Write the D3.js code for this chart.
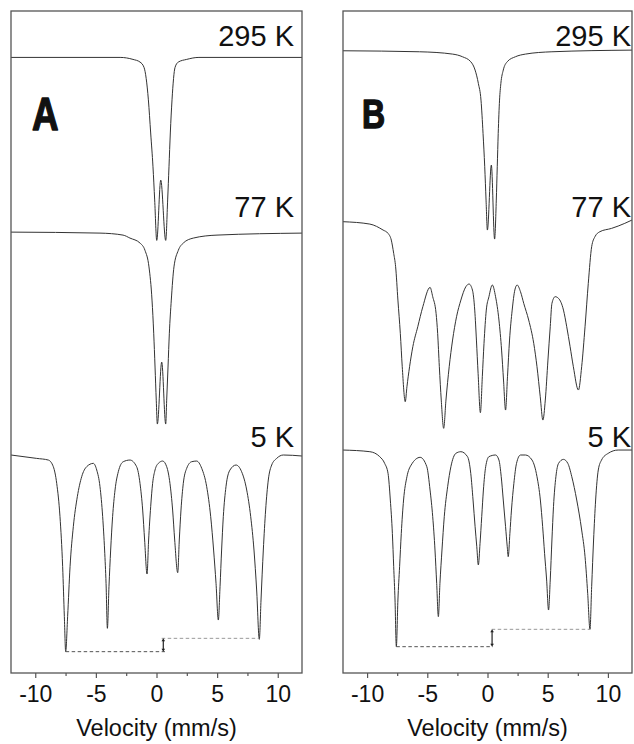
<!DOCTYPE html>
<html>
<head>
<meta charset="utf-8">
<script src="https://cdn.jsdelivr.net/npm/d3@7"></script>
<style>
  body { margin: 0; background: #fff; }
  text { font-family: "Liberation Sans", Arial, sans-serif; fill: #111; }
</style>
</head>
<body>
<svg id="chart" width="634" height="744"></svg>
<script>
// Mossbauer spectra: velocity (mm/s) vs. stacked transmission (arb. units, 0-100)
var velocityTicks = [-10, -5, 0, 5, 10];
var minorTicks = [-7.5, -2.5, 2.5, 7.5];
var temperatures = ['295 K', '77 K', '5 K'];
var panelNames = ['A', 'B'];

var specA295 = [
    [-12, 93.0], [-3.0, 93.0], [-1.94, 92.7], [-1.36, 92.3], [-1.03, 91.5], [-0.67, 86.6],
    [-0.48, 81.6], [-0.29, 76.5], [-0.15, 71.5], [0.02, 65.4], [0.35, 74.5], [0.76, 65.4],
    [0.92, 71.5], [1.03, 76.5], [1.14, 81.6], [1.28, 86.6], [1.53, 91.5], [1.80, 92.3],
    [2.49, 92.7], [3.5, 93.0], [12, 93.0]
];
var specA77 = [
    [-12, 66.65], [-4.66, 66.5], [-2.76, 66.2], [-2.19, 65.75], [-1.36, 65.0], [-0.95, 63.9],
    [-0.62, 61.4], [-0.37, 56.4], [-0.23, 51.4], [-0.12, 46.3], [-0.02, 41.3], [0.07, 37.7],
    [0.43, 47.05], [0.76, 37.7], [0.84, 41.3], [0.95, 46.3], [1.06, 51.4], [1.22, 56.4],
    [1.44, 61.4], [1.80, 63.9], [2.21, 65.0], [3.04, 65.75], [4.99, 66.2], [12, 66.5]
];
var specA5 = [
    [-12, 33.03], [-9.88, 32.52], [-8.92, 32.27], [-8.51, 31.27], [-8.23, 28.75], [-7.96, 23.73],
    [-7.74, 16.19], [-7.60, 8.65], [-7.49, 3.37], [-7.33, 8.65], [-7.13, 16.19], [-6.86, 22.22],
    [-6.53, 26.74], [-6.17, 29.76], [-5.76, 31.27], [-5.21, 31.77], [-4.93, 30.77], [-4.66, 28.25],
    [-4.44, 23.73], [-4.28, 18.70], [-4.16, 13.67], [-4.05, 6.89], [-3.92, 13.17], [-3.78, 18.70],
    [-3.62, 23.73], [-3.42, 27.75], [-3.15, 30.51], [-2.74, 32.02], [-2.19, 32.27], [-1.64, 31.27],
    [-1.36, 28.75], [-1.14, 24.73], [-0.98, 20.21], [-0.78, 15.08], [-0.65, 20.21], [-0.48, 25.24],
    [-0.32, 28.75], [-0.12, 30.77], [0.15, 31.77], [0.51, 32.12], [0.84, 31.27], [1.11, 28.75],
    [1.33, 24.73], [1.50, 20.21], [1.75, 15.28], [1.88, 20.21], [2.02, 24.73], [2.21, 28.75],
    [2.49, 31.02], [2.90, 32.02], [3.31, 32.12], [3.73, 31.02], [4.14, 28.25], [4.47, 23.73],
    [4.71, 18.70], [4.91, 13.67], [5.10, 8.14], [5.24, 13.17], [5.37, 18.70], [5.51, 23.73],
    [5.73, 28.25], [6.06, 30.77], [6.56, 31.52], [7.02, 30.51], [7.44, 27.75], [7.77, 23.73],
    [8.04, 18.70], [8.26, 12.67], [8.48, 5.23], [8.62, 11.16], [8.81, 18.70], [9.00, 24.73],
    [9.22, 29.26], [9.50, 31.52], [9.91, 32.52], [10.46, 33.03], [12, 32.88]
];

var specB295 = [
    [-12, 94.0], [-5.64, 93.85], [-2.90, 93.5], [-2.08, 93.1], [-1.39, 92.35], [-1.03, 91.09],
    [-0.76, 89.08], [-0.54, 86.56], [-0.37, 81.54], [-0.23, 76.51], [-0.12, 71.48], [-0.01, 66.96],
    [0.32, 76.76], [0.59, 65.60], [0.73, 71.48], [0.81, 76.51], [0.89, 81.54], [1.00, 86.56],
    [1.11, 89.08], [1.31, 91.09], [1.64, 92.35], [2.32, 93.1], [3.15, 93.5], [5.35, 93.85], [12, 94.1]
];
var specB77 = [
    [-12, 68.22], [-9.77, 67.86], [-8.67, 66.96], [-8.26, 66.46], [-7.99, 65.45], [-7.79, 63.44],
    [-7.63, 61.43], [-7.44, 56.40], [-7.24, 51.38], [-7.08, 46.35], [-6.83, 41.07], [-6.69, 43.33],
    [-6.47, 46.35], [-6.20, 49.37], [-5.79, 52.38], [-5.37, 55.40], [-4.77, 58.31], [-4.55, 56.91],
    [-4.27, 54.39], [-4.14, 51.38], [-4.00, 46.35], [-3.84, 41.32], [-3.64, 37.05], [-3.45, 41.32],
    [-3.18, 46.35], [-2.90, 50.37], [-2.57, 53.89], [-2.21, 56.40], [-1.80, 58.41], [-1.53, 58.82],
    [-1.25, 57.91], [-1.06, 54.89], [-0.92, 50.37], [-0.78, 45.34], [-0.59, 39.41], [-0.43, 44.84],
    [-0.29, 49.87], [-0.10, 54.89], [0.12, 56.91], [0.40, 58.67], [0.67, 56.91], [0.95, 53.39],
    [1.17, 48.86], [1.33, 44.34], [1.50, 39.81], [1.66, 44.84], [1.83, 50.37], [2.05, 54.89],
    [2.27, 57.91], [2.46, 58.67], [2.74, 57.66], [3.01, 55.90], [3.42, 53.39], [3.84, 49.87],
    [4.11, 46.35], [4.38, 41.82], [4.60, 38.30], [4.80, 41.32], [5.02, 47.35], [5.21, 52.38],
    [5.35, 55.90], [5.62, 56.91], [5.90, 56.65], [6.31, 54.89], [6.58, 52.38], [6.86, 49.37],
    [7.13, 46.35], [7.55, 42.83], [7.82, 46.35], [8.10, 52.38], [8.37, 58.92], [8.65, 64.45],
    [8.92, 65.95], [9.33, 66.71], [10.30, 67.21], [11.40, 67.97], [12, 68.47]
];
var specB5 = [
    [-12, 33.78], [-9.77, 33.53], [-8.95, 32.78], [-8.54, 31.77], [-8.26, 30.26], [-8.07, 26.24],
    [-7.90, 21.21], [-7.79, 16.19], [-7.68, 11.16], [-7.57, 4.12], [-7.44, 11.16], [-7.30, 16.19],
    [-7.16, 21.21], [-6.97, 26.24], [-6.69, 29.76], [-6.34, 31.52], [-5.59, 32.68], [-5.04, 31.27],
    [-4.77, 27.75], [-4.55, 23.73], [-4.36, 18.70], [-4.22, 13.67], [-4.08, 8.65], [-3.95, 13.67],
    [-3.78, 18.70], [-3.59, 23.73], [-3.31, 28.25], [-3.04, 31.27], [-2.63, 33.28], [-2.21, 33.53],
    [-1.66, 32.78], [-1.39, 30.26], [-1.20, 26.24], [-1.03, 22.22], [-0.89, 19.20], [-0.76, 16.44],
    [-0.62, 19.71], [-0.48, 23.73], [-0.34, 27.75], [-0.15, 31.27], [0.12, 32.78], [0.67, 33.03],
    [0.95, 32.27], [1.14, 29.76], [1.31, 26.24], [1.50, 22.22], [1.64, 19.20], [1.72, 17.70],
    [1.86, 21.21], [1.99, 24.73], [2.19, 28.75], [2.41, 31.77], [2.74, 33.03], [3.15, 33.03],
    [3.70, 32.27], [4.11, 29.76], [4.39, 26.24], [4.58, 22.22], [4.74, 18.20], [4.91, 14.18],
    [5.07, 9.65], [5.21, 14.18], [5.35, 20.21], [5.48, 25.24], [5.68, 29.76], [5.90, 31.77],
    [6.31, 32.37], [6.67, 31.77], [7.00, 29.76], [7.41, 26.24], [7.82, 21.72], [8.10, 17.70],
    [8.32, 12.17], [8.51, 6.74], [8.65, 13.17], [8.81, 20.21], [8.98, 26.24], [9.20, 30.77],
    [9.47, 32.27], [10.02, 33.28], [10.85, 33.78], [12, 33.78]
];

// outer-line minima of the 5 K sextets (dashed guides) and the shift arrow
var splitLowA = [[-7.49, 3.37], [0.70, 3.37]];
var splitHighA = [[0.43, 5.38], [8.48, 5.38]];
var arrowA = 0.56;
var splitLowB = [[-7.57, 4.12], [0.45, 4.12]];
var splitHighB = [[0.35, 6.74], [8.51, 6.74]];
var arrowB = 0.38;

var svg = d3.select('#chart');
var plotTop = 11, plotBottom = 673;

var panels = [
    { name: panelNames[0], left: 11, right: 302, series: [specA295, specA77, specA5],
      low: splitLowA, high: splitHighA, arrow: arrowA, labelRight: 294,
      letterX: 32, letterY: 130, letterSize: 46 },
    { name: panelNames[1], left: 343, right: 632, series: [specB295, specB77, specB5],
      low: splitLowB, high: splitHighB, arrow: arrowB, labelRight: 631,
      letterX: 362, letterY: 128, letterSize: 40 }
];
var labelBaselines = [46, 217, 447];

var y = d3.scaleLinear().domain([0, 100]).range([674, 11]);

panels.forEach(function (p, i) {
    var x = d3.scaleLinear().domain([-12, 12]).range([p.left, p.right]);
    var g = svg.append('g');

    g.append('clipPath').attr('id', 'clip' + i)
        .append('rect')
        .attr('x', p.left).attr('y', plotTop)
        .attr('width', p.right - p.left).attr('height', plotBottom - plotTop);

    var line = d3.line()
        .x(function (d) { return x(d[0]); })
        .y(function (d) { return y(d[1]); })
        .curve(d3.curveMonotoneX);

    var plot = g.append('g').attr('clip-path', 'url(#clip' + i + ')');
    plot.selectAll('path.spec')
        .data(p.series)
        .enter().append('path')
        .attr('class', 'spec')
        .attr('d', line)
        .attr('fill', 'none')
        .attr('stroke', '#333')
        .attr('stroke-width', 1);

    var straight = d3.line()
        .x(function (d) { return x(d[0]); })
        .y(function (d) { return y(d[1]); });
    plot.append('path').attr('d', straight(p.low))
        .attr('fill', 'none').attr('stroke', '#555')
        .attr('stroke-width', 1).attr('stroke-dasharray', '3.5,2.5');
    plot.append('path').attr('d', straight(p.high))
        .attr('fill', 'none').attr('stroke', '#999')
        .attr('stroke-width', 1).attr('stroke-dasharray', '3.5,2.5');

    // small double-headed arrow between the two guide levels
    var ax = x(p.arrow), y1 = y(p.high[0][1]), y2 = y(p.low[0][1]);
    plot.append('line')
        .attr('x1', ax).attr('x2', ax).attr('y1', y1 + 2.5).attr('y2', y2 - 2.5)
        .attr('stroke', '#222').attr('stroke-width', 1.2);
    plot.append('path')
        .attr('d', 'M' + (ax - 1.8) + ',' + (y1 + 3) + 'L' + ax + ',' + y1 + 'L' + (ax + 1.8) + ',' + (y1 + 3) + 'Z' +
                   'M' + (ax - 1.8) + ',' + (y2 - 3) + 'L' + ax + ',' + y2 + 'L' + (ax + 1.8) + ',' + (y2 - 3) + 'Z')
        .attr('fill', '#222');

    // frame
    g.append('rect')
        .attr('x', p.left).attr('y', plotTop)
        .attr('width', p.right - p.left).attr('height', plotBottom - plotTop)
        .attr('fill', 'none').attr('stroke', '#555').attr('stroke-width', 1.3);

    // axis
    var axis = g.append('g').attr('transform', 'translate(0,' + plotBottom + ')')
        .call(d3.axisBottom(x).tickValues(velocityTicks).tickSize(5).tickFormat(String));
    axis.select('.domain').remove();
    axis.selectAll('line').attr('stroke', '#555').attr('stroke-width', 1.2);
    axis.selectAll('text').attr('y', 13).attr('font-size', 23)
        .style('font-family', '"Liberation Sans", Arial, sans-serif').attr('fill', '#111');

    var minor = g.append('g').attr('transform', 'translate(0,' + plotBottom + ')')
        .call(d3.axisBottom(x).tickValues(minorTicks).tickSize(3).tickFormat(''));
    minor.select('.domain').remove();
    minor.selectAll('line').attr('stroke', '#555').attr('stroke-width', 1.2);

    g.append('text')
        .attr('x', x(0)).attr('y', 736)
        .attr('text-anchor', 'middle')
        .attr('font-size', 23.5)
        .text('Velocity (mm/s)');

    g.selectAll('text.temp')
        .data(temperatures)
        .enter().append('text')
        .attr('class', 'temp')
        .attr('x', p.labelRight)
        .attr('y', function (d, k) { return labelBaselines[k]; })
        .attr('text-anchor', 'end')
        .attr('font-size', 29)
        .text(function (d) { return d; });

    g.append('text')
        .attr('transform', 'translate(' + p.letterX + ',' + p.letterY + ') scale(0.8,1)')
        .attr('font-size', p.letterSize)
        .attr('font-weight', 'bold')
        .attr('stroke', '#111')
        .attr('stroke-width', 1.4)
        .attr('stroke-linejoin', 'round')
        .text(p.name);
});
</script>
</body>
</html>
